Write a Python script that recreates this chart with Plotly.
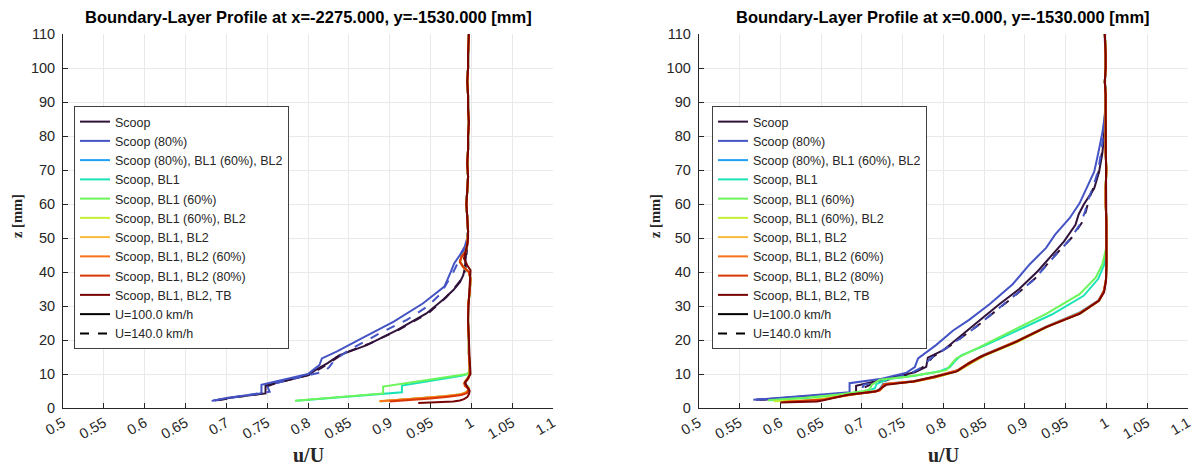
import plotly.graph_objects as go

# ---------------- labels ----------------
config_names = ["Scoop", "Scoop (80%)", "Scoop (80%), BL1 (60%), BL2", "Scoop, BL1",
                "Scoop, BL1 (60%)", "Scoop, BL1 (60%), BL2", "Scoop, BL1, BL2",
                "Scoop, BL1, BL2 (60%)", "Scoop, BL1, BL2 (80%)", "Scoop, BL1, BL2, TB"]
config_colors = ["#30123B", "#4454C4", "#1FA0F5", "#1AE4B6", "#6CF55A",
                 "#C4F132", "#FBB83A", "#F8721C", "#D93806", "#7A0403"]
speed_names = ["U=100.0 km/h", "U=140.0 km/h"]
titles = ["Boundary-Layer Profile at x=-2275.000, y=-1530.000 [mm]",
          "Boundary-Layer Profile at x=0.000, y=-1530.000 [mm]"]
x_tickvals = [0.5, 0.55, 0.6, 0.65, 0.7, 0.75, 0.8, 0.85, 0.9, 0.95, 1.0, 1.05, 1.1]
x_ticktext = ["0.5", "0.55", "0.6", "0.65", "0.7", "0.75", "0.8", "0.85", "0.9", "0.95", "1", "1.05", "1.1"]
y_tickvals = [0, 10, 20, 30, 40, 50, 60, 70, 80, 90, 100, 110]

# ---------------- LEFT subplot (x=-2275) ----------------
L_out_z = [52, 56, 60, 64, 68, 72, 76, 80, 84, 88, 92, 96, 100, 104, 108, 110]
L_out_u = [0.996, 0.995, 0.994, 0.995, 0.996, 0.995, 0.996, 0.996, 0.997, 0.996, 0.996, 0.995, 0.996, 0.996, 0.997, 0.997]
L_wall_z = [12, 16, 20, 25, 30, 34, 38, 40, 41.5, 43, 44.5, 46, 48]
L_wall_u = [0.998, 0.997, 0.997, 0.996, 0.996, 0.998, 0.999, 0.997, 0.990, 0.986, 0.988, 0.993, 0.995]

L_scoop_100_z = [2.2, 3.0, 4.2, 4.3, 6.6, 7.2, 8.5, 9.6, 11.0, 12.0, 13.2, 15.5, 18.5, 22.9, 27.8, 32.0, 34.7, 37.0, 39.0, 41.0, 44.0, 48.0]
L_scoop_100_u = [0.686, 0.705, 0.744, 0.748, 0.748, 0.758, 0.782, 0.800, 0.808, 0.815, 0.824, 0.838, 0.872, 0.909, 0.945, 0.966, 0.978, 0.986, 0.990, 0.992, 0.993, 0.995]
L_scoop_140_z = [2.3, 3.2, 4.4, 6.4, 7.4, 9.8, 12.0, 14.0, 16.0, 19.0, 23.0, 28.0, 32.5, 35.5, 38.5, 41.0, 45.0, 49.0]
L_scoop_140_u = [0.690, 0.712, 0.748, 0.750, 0.762, 0.802, 0.818, 0.830, 0.843, 0.876, 0.911, 0.948, 0.969, 0.980, 0.990, 0.993, 0.994, 0.995]
L_s80_100_z = [2.1, 3.0, 4.3, 4.4, 6.8, 7.3, 8.5, 10.0, 11.5, 12.6, 14.6, 16.6, 20.8, 25.4, 30.8, 35.7, 40.1, 42.5, 45.0, 47.5, 50.0]
L_s80_100_u = [0.682, 0.702, 0.741, 0.743, 0.743, 0.752, 0.776, 0.800, 0.808, 0.814, 0.817, 0.835, 0.868, 0.905, 0.941, 0.967, 0.975, 0.979, 0.986, 0.992, 0.995]
L_s80_140_z = [2.2, 3.1, 4.5, 4.8, 6.5, 7.0, 8.8, 10.7, 12.0, 14.0, 17.0, 22.0, 25.9, 30.0, 33.5, 36.7, 39.5, 42.0, 44.5, 47.0, 50.0]
L_s80_140_u = [0.684, 0.706, 0.745, 0.753, 0.750, 0.756, 0.785, 0.820, 0.826, 0.832, 0.850, 0.888, 0.921, 0.947, 0.962, 0.970, 0.977, 0.982, 0.987, 0.992, 0.995]
L_s80bl2_z = [2.0, 2.5, 3.0, 3.6, 4.2, 5.0, 6.0, 7.0, 8.0, 9.0, 10.0]
L_s80bl2_u = [0.890, 0.920, 0.950, 0.975, 0.990, 0.996, 0.997, 0.993, 0.994, 0.997, 0.998]
L_bl1_z = [2.1, 2.8, 3.5, 4.2, 4.6, 6.6, 7.2, 8.0, 8.8, 9.5, 10.0, 11.0]
L_bl1_u = [0.786, 0.822, 0.858, 0.895, 0.915, 0.915, 0.930, 0.952, 0.972, 0.988, 0.996, 0.998]
L_bl160_z = [2.1, 2.8, 3.5, 4.3, 6.3, 7.0, 7.8, 8.6, 9.3, 10.0, 11.0]
L_bl160_u = [0.784, 0.818, 0.853, 0.892, 0.892, 0.912, 0.935, 0.958, 0.978, 0.995, 0.998]
L_bl160bl2_z = [2.0, 2.5, 3.0, 3.5, 4.1, 4.8, 6.0, 7.0, 8.0, 9.0, 10.0]
L_bl160bl2_u = [0.889, 0.918, 0.947, 0.970, 0.988, 0.995, 0.997, 0.992, 0.993, 0.996, 0.998]
L_bl1bl2_z = [2.0, 2.4, 3.0, 3.5, 4.0, 4.7, 5.8, 6.8, 7.8, 8.8, 10.0]
L_bl1bl2_u = [0.887, 0.913, 0.945, 0.968, 0.986, 0.995, 0.997, 0.992, 0.992, 0.996, 0.998]
L_bl2_60_z = [2.0, 2.4, 2.9, 3.4, 3.9, 4.5, 5.5, 6.5, 7.2, 8.0, 9.0, 10.0]
L_bl2_60_u = [0.888, 0.912, 0.940, 0.965, 0.985, 0.994, 0.997, 0.993, 0.991, 0.994, 0.997, 0.998]
L_bl2_80_z = [1.9, 2.3, 2.8, 3.3, 3.8, 4.4, 5.5, 6.5, 7.5, 8.5, 10.0]
L_bl2_80_u = [0.900, 0.925, 0.950, 0.972, 0.988, 0.995, 0.997, 0.992, 0.992, 0.996, 0.998]
L_tb_z = [1.5, 1.7, 1.9, 2.2, 2.6, 3.2, 4.0, 5.0, 6.5, 7.5, 8.5, 10, 14, 20, 26, 32, 36, 39, 40.5, 42, 44, 46, 48, 50]
L_tb_u = [0.935, 0.962, 0.978, 0.986, 0.991, 0.995, 0.997, 0.998, 0.995, 0.992, 0.995, 0.999, 0.998, 0.997, 0.996, 0.997, 0.998, 0.999, 0.999, 0.995, 0.991, 0.993, 0.995, 0.996]

# ---------------- RIGHT subplot (x=0) ----------------
R_out_z = [88, 92, 96, 100, 104, 108, 110]
R_out_u = [0.999, 0.999, 0.998, 0.999, 0.999, 0.998, 0.998]
R_wall_z = [50, 55, 60, 65, 70, 75, 80, 84]
R_wall_u = [1.000, 1.000, 0.999, 0.999, 1.000, 0.999, 0.999, 0.999]

R_scoop_100_z = [2.4, 3.4, 4.4, 4.5, 6.5, 7.2, 9.2, 10.5, 12.1, 14.8, 17.0, 22.3, 26.5, 30.6, 35.0, 40.3, 44.2, 49.0, 53.9, 57.0, 59.8, 64.6, 69.5, 75.0, 80.0, 85.0]
R_scoop_100_u = [0.570, 0.630, 0.690, 0.693, 0.693, 0.705, 0.742, 0.765, 0.779, 0.781, 0.800, 0.826, 0.848, 0.869, 0.893, 0.916, 0.930, 0.948, 0.962, 0.966, 0.972, 0.985, 0.991, 0.995, 0.997, 0.998]
R_scoop_140_z = [2.4, 3.5, 4.6, 6.0, 7.0, 8.5, 10.2, 12.5, 15.0, 18.9, 24.8, 28.5, 32.5, 38.0, 44.2, 50.0, 54.9, 58.0, 61.7, 66.0, 70.0, 76.0, 82.0, 86.0]
R_scoop_140_u = [0.575, 0.640, 0.700, 0.703, 0.712, 0.735, 0.763, 0.778, 0.787, 0.812, 0.845, 0.864, 0.885, 0.912, 0.934, 0.957, 0.971, 0.975, 0.979, 0.986, 0.991, 0.995, 0.998, 0.999]
R_s80_100_z = [2.4, 3.4, 4.5, 4.6, 7.3, 8.5, 10.4, 12.0, 14.6, 18.5, 22.8, 26.0, 30.6, 36.4, 42.3, 47.1, 51.0, 55.9, 60.2, 66.6, 69.5, 75.0, 81.0, 86.0]
R_s80_100_u = [0.567, 0.624, 0.681, 0.685, 0.685, 0.722, 0.755, 0.765, 0.769, 0.791, 0.812, 0.832, 0.857, 0.885, 0.906, 0.926, 0.937, 0.955, 0.967, 0.980, 0.985, 0.990, 0.995, 0.998]
R_s80_140_z = [2.4, 3.5, 4.5, 5.0, 6.8, 8.0, 10.0, 12.0, 14.5, 18.5, 24.0, 28.0, 32.0, 37.5, 43.5, 49.5, 54.5, 58.0, 61.5, 66.0, 70.0, 76.0, 82.0, 86.0]
R_s80_140_u = [0.572, 0.635, 0.695, 0.700, 0.702, 0.728, 0.758, 0.774, 0.784, 0.809, 0.841, 0.861, 0.882, 0.910, 0.932, 0.955, 0.969, 0.974, 0.978, 0.985, 0.990, 0.994, 0.997, 0.999]
R_s80bl2_z = [1.8, 2.1, 2.5, 3.2, 4.0, 4.8, 5.3, 7.1, 7.9, 9.1, 10.1, 11.1, 13.6, 15.6, 19.6, 24.1, 28.1, 31.6, 34.6, 38.0, 42.0, 47.0]
R_s80bl2_u = [0.603, 0.632, 0.652, 0.666, 0.686, 0.713, 0.721, 0.726, 0.763, 0.788, 0.803, 0.817, 0.834, 0.849, 0.889, 0.927, 0.967, 0.990, 0.997, 0.9995, 1.0, 1.0]
R_bl1_z = [2.3, 3.0, 4.0, 5.0, 5.8, 7.0, 8.5, 9.5, 10.8, 12.0, 14.0, 15.5, 18.5, 23.0, 27.5, 33.0, 38.0, 42.0, 46.5]
R_bl1_u = [0.588, 0.634, 0.676, 0.708, 0.716, 0.718, 0.732, 0.765, 0.796, 0.808, 0.815, 0.822, 0.852, 0.893, 0.933, 0.972, 0.990, 0.997, 1.0]
R_bl160_z = [2.3, 3.0, 4.0, 5.0, 5.5, 6.8, 8.3, 9.2, 10.5, 11.2, 13.0, 14.6, 18.0, 22.8, 27.7, 33.5, 38.4, 42.3, 47.0]
R_bl160_u = [0.585, 0.630, 0.672, 0.703, 0.710, 0.712, 0.722, 0.755, 0.790, 0.804, 0.810, 0.816, 0.845, 0.885, 0.926, 0.967, 0.987, 0.995, 0.9995]
R_bl160bl2_z = [2.0, 2.3, 2.7, 3.3, 4.1, 4.9, 5.4, 7.0, 7.8, 9.0, 10.0, 11.0, 13.4, 15.4, 19.4, 24.0, 27.9, 31.5, 34.4, 38.0, 42.0, 47.0]
R_bl160bl2_u = [0.592, 0.630, 0.650, 0.667, 0.690, 0.716, 0.723, 0.728, 0.766, 0.791, 0.806, 0.819, 0.836, 0.851, 0.891, 0.929, 0.969, 0.991, 0.997, 0.9995, 1.0, 1.0]
R_bl1bl2_z = [1.8, 2.1, 2.5, 3.1, 3.9, 4.8, 5.2, 7.0, 7.8, 9.0, 10.0, 11.0, 13.5, 15.5, 19.5, 24.0, 28.0, 31.5, 34.5, 38.0, 42.0, 47.0]
R_bl1bl2_u = [0.604, 0.634, 0.654, 0.667, 0.687, 0.714, 0.722, 0.727, 0.764, 0.789, 0.804, 0.817, 0.834, 0.849, 0.889, 0.927, 0.967, 0.990, 0.997, 0.9995, 1.0, 1.0]
R_bl2_60_z = [1.8, 2.0, 2.4, 3.1, 3.9, 4.8, 5.3, 7.1, 7.9, 9.1, 10.1, 11.1, 13.4, 15.4, 19.4, 23.9, 27.9, 31.5, 34.4, 38.0, 42.0, 47.0]
R_bl2_60_u = [0.602, 0.628, 0.650, 0.665, 0.685, 0.716, 0.723, 0.729, 0.764, 0.787, 0.803, 0.817, 0.832, 0.848, 0.887, 0.927, 0.968, 0.991, 0.997, 0.9995, 1.0, 1.0]
R_bl2_80_z = [1.8, 2.1, 2.5, 3.2, 4.0, 4.8, 5.2, 7.0, 7.8, 9.0, 10.0, 11.0, 13.5, 15.5, 19.5, 24.0, 28.0, 31.5, 34.5, 38.0, 42.0, 47.0]
R_bl2_80_u = [0.605, 0.635, 0.655, 0.668, 0.688, 0.715, 0.722, 0.727, 0.765, 0.790, 0.805, 0.818, 0.835, 0.850, 0.890, 0.928, 0.968, 0.990, 0.997, 0.9995, 1.0, 1.0]
R_tb_z = [1.6, 1.7, 1.9, 2.1, 2.5, 3.0, 3.9, 4.9, 6.8, 7.8, 9.0, 9.7, 10.7, 13.0, 15.0, 19.0, 23.8, 27.7, 31.6, 34.0, 37.4, 42.0, 47.0]
R_tb_u = [0.600, 0.630, 0.645, 0.650, 0.658, 0.665, 0.683, 0.718, 0.730, 0.763, 0.785, 0.800, 0.816, 0.830, 0.845, 0.885, 0.926, 0.967, 0.991, 0.997, 0.9995, 1.0, 1.0]

# profiles per subplot: (config index, speed index, u, z, tail)
left_profiles = [
    (0, 0, L_scoop_100_u, L_scoop_100_z, "out"), (0, 1, L_scoop_140_u, L_scoop_140_z, "out"),
    (1, 0, L_s80_100_u, L_s80_100_z, "out"), (1, 1, L_s80_140_u, L_s80_140_z, "out"),
    (2, 0, L_s80bl2_u, L_s80bl2_z, "wall"), (3, 0, L_bl1_u, L_bl1_z, "wall"),
    (4, 0, L_bl160_u, L_bl160_z, "wall"), (5, 0, L_bl160bl2_u, L_bl160bl2_z, "wall"),
    (6, 0, L_bl1bl2_u, L_bl1bl2_z, "wall"), (7, 0, L_bl2_60_u, L_bl2_60_z, "wall"),
    (8, 0, L_bl2_80_u, L_bl2_80_z, "wall"), (9, 0, L_tb_u, L_tb_z, "out"),
]
right_profiles = [
    (0, 0, R_scoop_100_u, R_scoop_100_z, "out"), (0, 1, R_scoop_140_u, R_scoop_140_z, "out"),
    (1, 0, R_s80_100_u, R_s80_100_z, "out"), (1, 1, R_s80_140_u, R_s80_140_z, "out"),
    (2, 0, R_s80bl2_u, R_s80bl2_z, "wall"), (3, 0, R_bl1_u, R_bl1_z, "wall"),
    (4, 0, R_bl160_u, R_bl160_z, "wall"), (5, 0, R_bl160bl2_u, R_bl160bl2_z, "wall"),
    (6, 0, R_bl1bl2_u, R_bl1bl2_z, "wall"), (7, 0, R_bl2_60_u, R_bl2_60_z, "wall"),
    (8, 0, R_bl2_80_u, R_bl2_80_z, "wall"), (9, 0, R_tb_u, R_tb_z, "out"),
]

fig = go.Figure()

def add_panel(profiles, out_u, out_z, wall_u, wall_z, xa, ya, leg):
    for ci, si, u, z, tail in profiles:
        uu = list(u)
        zz = list(z)
        if tail == "wall":
            uu += wall_u
            zz += wall_z
        uu += out_u
        zz += out_z
        fig.add_trace(go.Scatter(
            x=uu, y=zz, mode="lines", xaxis=xa, yaxis=ya, legend=leg,
            line=dict(color=config_colors[ci], width=2, dash="solid" if si == 0 else "dash"),
            name=config_names[ci], showlegend=(si == 0), legendrank=ci + 1,
            hoverinfo="skip"))
    for si, nm in enumerate(speed_names):
        fig.add_trace(go.Scatter(
            x=[None], y=[None], mode="lines", xaxis=xa, yaxis=ya, legend=leg,
            line=dict(color="black", width=2, dash="solid" if si == 0 else "dash"),
            name=nm, showlegend=True, legendrank=20 + si))

add_panel(left_profiles, L_out_u, L_out_z, L_wall_u, L_wall_z, "x", "y", "legend")
add_panel(right_profiles, R_out_u, R_out_z, R_wall_u, R_wall_z, "x2", "y2", "legend2")

axis_common = dict(showline=True, linecolor="#262626", linewidth=1, mirror=False,
                   ticks="inside", ticklen=5, tickcolor="#262626", showgrid=True,
                   gridcolor="#e9e9e9", gridwidth=1, zeroline=False, automargin=False,
                   tickfont=dict(family="Liberation Sans, Arial", size=14.5, color="#262626"))
xdom = [[63 / 1200, 553 / 1200], [698.7 / 1200, 1188 / 1200]]
ydom = [(469 - 408) / 469, (469 - 34) / 469]

for i, (xk, yk) in enumerate([("xaxis", "yaxis"), ("xaxis2", "yaxis2")]):
    fig.layout[xk] = dict(axis_common, domain=xdom[i], range=[0.5, 1.1], tickmode="array",
                          tickvals=x_tickvals, ticktext=x_ticktext, tickangle=-30,
                          anchor="y" if i == 0 else "y2")
    fig.layout[yk] = dict(axis_common, domain=ydom, range=[0, 110], tickmode="array",
                          tickvals=y_tickvals, anchor="x" if i == 0 else "x2",
                          ticklabelstandoff=4)

legend_common = dict(bgcolor="white", bordercolor="#404040", borderwidth=1,
                     font=dict(family="Liberation Sans, Arial", size=12.5, color="#262626"),
                     xanchor="left", yanchor="top", tracegroupgap=0, itemwidth=30)
fig.update_layout(
    legend=dict(legend_common, x=74 / 1200, y=1 - 106 / 469),
    legend2=dict(legend_common, x=712 / 1200, y=1 - 106 / 469),
)

annotations = []
for i in range(2):
    cx = (xdom[i][0] + xdom[i][1]) / 2
    annotations.append(dict(text=titles[i], x=cx, y=1 - 17 / 469, xref="paper", yref="paper",
                            showarrow=False, xanchor="center", yanchor="middle",
                            font=dict(family="Liberation Sans, Arial", size=16.5, color="black", weight="bold")))
    annotations.append(dict(text="u/U", x=cx, y=(469 - 455) / 469, xref="paper", yref="paper",
                            showarrow=False, xanchor="center", yanchor="middle",
                            font=dict(family="Liberation Serif, Times New Roman", size=20, color="#262626", weight="bold")))
    zx = [17, 655][i]
    annotations.append(dict(text="z [mm]", x=zx / 1200, y=(469 - 216) / 469, xref="paper", yref="paper",
                            showarrow=False, xanchor="center", yanchor="middle", textangle=-90,
                            font=dict(family="Liberation Serif, Times New Roman", size=14.5, color="#262626", weight="bold")))

fig.update_layout(template="none", width=1200, height=469, margin=dict(l=0, r=0, t=0, b=0, pad=0),
                  paper_bgcolor="white", plot_bgcolor="white", annotations=annotations,
                  font=dict(family="Liberation Sans, Arial", color="#262626"))

fig.write_html("out.html")
